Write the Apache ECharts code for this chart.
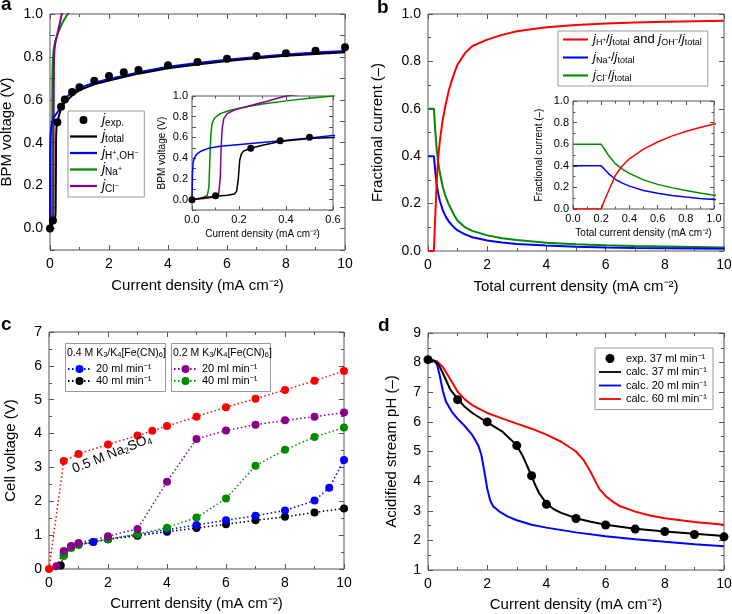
<!DOCTYPE html>
<html>
<head>
<meta charset="utf-8">
<script src="https://cdn.jsdelivr.net/npm/echarts@6/dist/echarts.min.js"></script>
<style>
html, body { margin: 0; padding: 0; background: #fff; }
#main { width: 732px; height: 614px; }
</style>
</head>
<body>
<div id="main"></div>
<script>
var FONT = '"Liberation Sans", Arial, sans-serif';
var FRAME = '#555';
var RED = '#ff0000', BLUE = '#0000ff', GREEN = '#008a00', PURPLE = '#880088';

// ---- a: BPM voltage vs current density (also used by the inset)
var aExp = [[0,0],[0.1,0.037],[0.25,0.495],[0.375,0.568],[0.5,0.602],[0.75,0.637],[1,0.658],[1.5,0.689],[2,0.711],[2.5,0.728],[3,0.739],[4,0.761],[5,0.776],[6,0.792],[7,0.804],[8,0.817],[9,0.829],[10,0.845]];
var aTotal = [[0,0],[0.05,0.018],[0.1,0.033],[0.15,0.043],[0.18,0.055],[0.19,0.08],[0.197,0.2],[0.203,0.38],[0.21,0.44],[0.22,0.47],[0.25,0.495],[0.3,0.525],[0.375,0.56],[0.5,0.59],[0.6,0.6],[0.75,0.62],[1,0.645],[1.5,0.672],[2,0.69],[3,0.722],[4,0.747],[5,0.765],[6,0.781],[7,0.794],[8,0.805],[9,0.814],[10,0.822]];
var aHOH = [[0,0],[0.002,0.25],[0.005,0.36],[0.01,0.4],[0.02,0.44],[0.04,0.47],[0.07,0.495],[0.12,0.515],[0.18,0.528],[0.25,0.542],[0.32,0.556],[0.4,0.572],[0.5,0.595],[0.6,0.618],[0.75,0.635],[1,0.655],[1.5,0.68],[2,0.697],[3,0.728],[4,0.754],[5,0.772],[6,0.787],[7,0.8],[8,0.811],[9,0.82],[10,0.828]];
var aNa = [[0,0],[0.04,0.015],[0.065,0.04],[0.072,0.12],[0.076,0.4],[0.08,0.62],[0.085,0.73],[0.095,0.785],[0.12,0.83],[0.16,0.86],[0.2,0.883],[0.3,0.922],[0.4,0.953],[0.5,0.978],[0.6,1.0],[0.8,1.03],[1.2,1.08]];
var aCl = [[0,0],[0.05,0.01],[0.1,0.025],[0.113,0.05],[0.12,0.2],[0.124,0.5],[0.128,0.68],[0.135,0.78],[0.15,0.83],[0.18,0.865],[0.22,0.89],[0.27,0.92],[0.32,0.95],[0.36,0.975],[0.4,1.0],[0.5,1.03],[0.8,1.08]];
var aYLabels = [0, 0.2, 0.4, 0.6, 0.8, 1.0];

// ---- b: fractional currents
var bH = [[0,0],[0.2,0],[0.22,0.07],[0.25,0.16],[0.3,0.31],[0.35,0.4],[0.4,0.465],[0.5,0.555],[0.6,0.62],[0.7,0.675],[0.8,0.718],[0.9,0.755],[1,0.787],[1.25,0.835],[1.5,0.865],[2,0.892],[2.5,0.912],[3,0.927],[4,0.944],[5,0.954],[6,0.96],[7,0.964],[8,0.967],[9,0.969],[10,0.971]];
var bNa = [[0,0.4],[0.2,0.4],[0.25,0.33],[0.3,0.275],[0.35,0.24],[0.4,0.212],[0.5,0.172],[0.6,0.145],[0.7,0.125],[0.8,0.11],[0.9,0.097],[1,0.087],[1.25,0.07],[1.5,0.058],[2,0.044],[2.5,0.036],[3,0.03],[4,0.023],[5,0.018],[6,0.015],[7,0.013],[8,0.012],[9,0.011],[10,0.01]];
var bCl = [[0,0.6],[0.2,0.6],[0.25,0.5],[0.3,0.42],[0.35,0.37],[0.4,0.33],[0.5,0.27],[0.6,0.228],[0.7,0.198],[0.8,0.172],[0.9,0.148],[1,0.128],[1.25,0.1],[1.5,0.085],[2,0.066],[2.5,0.054],[3,0.046],[4,0.035],[5,0.028],[6,0.024],[7,0.021],[8,0.019],[9,0.017],[10,0.015]];

// ---- c: cell voltage
var cNa2SO4 = [[0,0],[0.5,3.19],[1,3.4],[2,3.68],[3,3.94],[3.5,4.08],[4,4.22],[5,4.5],[6,4.78],[7,5.03],[8,5.29],[9,5.56],[10,5.85]];
var c04_20 = [[0.5,0.48],[0.75,0.66],[1,0.73],[1.5,0.8],[2,0.88],[3,1.02],[4,1.16],[5,1.3],[6,1.44],[7,1.57],[8,1.73],[9,2.02],[9.5,2.4],[10,3.22]];
var c04_40 = [[0.4,0.1],[0.5,0.4],[0.75,0.64],[1,0.72],[1.5,0.8],[2,0.88],[3,0.98],[4,1.1],[5,1.21],[6,1.32],[7,1.44],[8,1.54],[9,1.67],[10,1.79]];
var c02_20 = [[0.25,0.08],[0.5,0.53],[0.75,0.68],[1,0.77],[2,0.97],[3,1.18],[4,2.58],[5,3.84],[6,4.09],[7,4.26],[8,4.39],[9,4.5],[10,4.62]];
var c02_40 = [[0.5,0.39],[0.75,0.62],[1,0.71],[2,0.88],[3,1.03],[4,1.22],[5,1.52],[6,2.08],[7,3.05],[8,3.52],[9,3.9],[10,4.18]];

// ---- d: acidified stream pH
var dExp = [[0,8.1],[1,6.75],[2,6.0],[3,5.2],[3.5,4.18],[4,3.22],[5,2.74],[6,2.52],[7,2.38],[8,2.3],[9,2.2],[10,2.12]];
var d37 = [[0,8.1],[0.2,8.07],[0.35,7.95],[0.5,7.65],[0.75,7.1],[1,6.78],[1.25,6.5],[1.5,6.3],[2,5.98],[2.5,5.68],[2.8,5.4],[3,5.2],[3.2,4.85],[3.4,4.4],[3.5,4.18],[3.6,3.92],[3.75,3.6],[4,3.25],[4.25,3.05],[4.5,2.93],[5,2.75],[5.5,2.63],[6,2.53],[7,2.39],[8,2.3],[9,2.22],[10,2.15]];
var d20 = [[0,8.1],[0.2,8.05],[0.3,7.95],[0.4,7.55],[0.5,7.05],[0.6,6.7],[0.8,6.35],[1,6.1],[1.25,5.85],[1.5,5.55],[1.7,5.2],[1.8,4.9],[1.9,4.35],[2,3.75],[2.1,3.35],[2.2,3.15],[2.4,2.98],[2.7,2.8],[3,2.68],[3.5,2.53],[4,2.43],[5,2.27],[6,2.14],[7,2.04],[8,1.95],[9,1.87],[10,1.8]];
var d60 = [[0,8.1],[0.3,8.05],[0.5,7.85],[0.75,7.45],[1,7.02],[1.25,6.75],[1.5,6.56],[2,6.3],[2.5,6.12],[3,5.94],[3.5,5.77],[4,5.57],[4.5,5.33],[5,5.0],[5.25,4.72],[5.5,4.3],[5.65,4.0],[5.8,3.72],[6,3.5],[6.25,3.3],[6.5,3.15],[7,2.97],[7.5,2.84],[8,2.75],[9,2.62],[10,2.53]];

var legendText = {
    a_exp: '{j|j}{s|exp.}',
    a_total: '{j|j}{s|total}',
    a_hoh: '{j|j}{s|H}{p|+}{s|,OH}{p|\u2212}',
    a_na: '{j|j}{s|Na}{p|+}',
    a_cl: '{j|j}{s|Cl}{p|\u2212}',
    b_h: '{j|j}{s|H}{p|+}{n|/}{j|j}{s|total}{n| and }{j|j}{s|OH}{p|\u2212}{n|/}{j|j}{s|total}',
    b_na: '{j|j}{s|Na}{p|+}{n|/}{j|j}{s|total}',
    b_cl: '{j|j}{s|Cl}{p|\u2212}{n|/}{j|j}{s|total}',
    c04_20: '20 ml min\u207b\u00b9', c04_40: '40 ml min\u207b\u00b9',
    c02_20: '20 ml min\u207b\u00b9', c02_40: '40 ml min\u207b\u00b9',
    d_exp: 'exp. 37 ml min\u207b\u00b9', d_37: 'calc. 37 ml min\u207b\u00b9',
    d_20: 'calc. 20 ml min\u207b\u00b9', d_60: 'calc. 60 ml min\u207b\u00b9'
};
function fmtLegend(name) { return legendText[name]; }

// plain line icon for the legends (no marker on it)
var LINE_ICON = 'path://M0,0h24v2h-24z';

function richJ(fs) {
    return {
        j: { fontStyle: 'italic', fontSize: fs, lineHeight: fs + 2, fontFamily: FONT, color: '#000' },
        n: { fontSize: fs, lineHeight: fs + 2, fontFamily: FONT, color: '#000' },
        s: { fontSize: fs - 4, lineHeight: fs - 5, verticalAlign: 'bottom', fontFamily: FONT, color: '#000' },
        p: { fontSize: fs - 7, lineHeight: fs - 4, verticalAlign: 'middle', fontFamily: FONT, color: '#000' }
    };
}

var xAxes = [], yAxes = [];

function makeAxis(dim, grid, s, pos, main, inset) {
    var a = {
        type: 'value', gridIndex: grid, position: pos,
        min: s.min, max: s.max, interval: s.interval,
        z: inset ? 4 : 0,
        axisLine: { show: false, onZero: false },
        axisTick: { inside: true, length: inset ? 4 : 5, lineStyle: { color: FRAME } },
        minorTick: { show: !!s.minor, splitNumber: 2, length: inset ? 2.5 : 3, lineStyle: { color: FRAME } },
        splitLine: { show: false },
        axisLabel: {
            show: main, fontSize: inset ? 11 : 14, fontFamily: FONT, color: '#000',
            margin: inset ? 4 : 7,
            formatter: function (v) { return v.toFixed(s.dec); }
        }
    };
    if (s.labels) a.axisLabel.customValues = s.labels;
    if (main) {
        a.name = s.name;
        a.nameLocation = 'middle';
        a.nameGap = s.gap;
        a.nameTextStyle = { fontSize: inset ? 10 : 15, fontFamily: FONT, color: '#000' };
    }
    var arr = dim === 'x' ? xAxes : yAxes;
    arr.push(a);
    return arr.length - 1;
}

function frame(grid, xs, ys, inset) {
    var xi = makeAxis('x', grid, xs, 'bottom', true, inset);
    makeAxis('x', grid, xs, 'top', false, inset);
    var yi = makeAxis('y', grid, ys, 'left', true, inset);
    makeAxis('y', grid, ys, 'right', false, inset);
    return { x: xi, y: yi, z: inset ? 5 : 2 };
}

var grids = [
    { left: 50, top: 14, width: 295, height: 236 },
    { left: 192, top: 96, width: 141, height: 114, z: 3, backgroundColor: '#fff' },
    { left: 428, top: 14, width: 296, height: 237 },
    { left: 573, top: 101, width: 141, height: 108, z: 3, backgroundColor: '#fff' },
    { left: 49, top: 332, width: 295, height: 237 },
    { left: 428, top: 333, width: 296, height: 237 }
];
grids.forEach(function (g) {
    g.show = true;
    g.borderColor = FRAME;
    g.borderWidth = 1;
    g.outerBoundsMode = 'none';
    if (!g.backgroundColor) g.backgroundColor = 'transparent';
});

var cdName = 'Current density (mA cm\u207b\u00b2)';
var A = frame(0, { min: 0, max: 10, interval: 2, minor: true, dec: 0, name: cdName, gap: 28 },
                 { min: -0.1, max: 1.0, interval: 0.1, labels: aYLabels, dec: 1, name: 'BPM voltage (V)', gap: 36 });
var AI = frame(1, { min: 0, max: 0.6, interval: 0.2, minor: true, dec: 1, name: cdName, gap: 19 },
                  { min: -0.1, max: 1.0, interval: 0.1, labels: aYLabels, dec: 1, name: 'BPM voltage (V)', gap: 25 }, true);
var B = frame(2, { min: 0, max: 10, interval: 2, minor: true, dec: 0, name: 'Total current density (mA cm\u207b\u00b2)', gap: 28 },
                 { min: 0, max: 1, interval: 0.2, minor: true, dec: 1, name: 'Fractional current (\u2013)', gap: 43 });
var BI = frame(3, { min: 0, max: 1, interval: 0.2, minor: true, dec: 1, name: 'Total current density (mA cm\u207b\u00b2)', gap: 19 },
                  { min: 0, max: 1, interval: 0.2, minor: true, dec: 1, name: 'Fractional current (\u2013)', gap: 29 }, true);
var C = frame(4, { min: 0, max: 10, interval: 2, minor: true, dec: 0, name: cdName, gap: 27 },
                 { min: 0, max: 7, interval: 1, minor: true, dec: 0, name: 'Cell voltage (V)', gap: 31 });
var D = frame(5, { min: 0, max: 10, interval: 2, minor: true, dec: 0, name: cdName, gap: 27 },
                 { min: 1, max: 9, interval: 1, minor: true, dec: 0, name: 'Acidified stream pH (\u2013)', gap: 29 });

function curve(name, data, ax, color, width) {
    return {
        name: name, type: 'line', data: data, xAxisIndex: ax.x, yAxisIndex: ax.y, z: ax.z,
        symbol: 'none', smooth: false, silent: true, animation: false,
        itemStyle: { color: color },
        lineStyle: { color: color, width: width }
    };
}
function dots(name, data, ax, color, size) {
    return {
        name: name, type: 'scatter', data: data, xAxisIndex: ax.x, yAxisIndex: ax.y, z: ax.z + 1,
        symbol: 'circle', symbolSize: size, silent: true, animation: false,
        itemStyle: { color: color, opacity: 1 }
    };
}
function dotted(name, data, ax, color) {
    return {
        name: name, type: 'line', data: data, xAxisIndex: ax.x, yAxisIndex: ax.y, z: ax.z,
        symbol: 'circle', symbolSize: 8, showSymbol: true, silent: true, animation: false,
        itemStyle: { color: color },
        lineStyle: { color: color, width: 1.5, type: [1.5, 2.5] }
    };
}

var series = [
    // a
    curve('a_na', aNa, A, GREEN, 2),
    curve('a_cl', aCl, A, PURPLE, 2),
    curve('a_hoh', aHOH, A, BLUE, 2),
    curve('a_total', aTotal, A, '#000', 2),
    dots('a_exp', aExp, A, '#000', 8),
    curve('a_na', aNa, AI, GREEN, 1.5),
    curve('a_cl', aCl, AI, PURPLE, 1.5),
    curve('a_hoh', aHOH, AI, BLUE, 1.5),
    curve('a_total', aTotal, AI, '#000', 1.5),
    dots('a_exp', aExp, AI, '#000', 7),
    // b
    curve('b_cl', bCl, B, GREEN, 2),
    curve('b_na', bNa, B, BLUE, 2),
    curve('b_h', bH, B, RED, 2),
    curve('b_cl', bCl, BI, GREEN, 1.5),
    curve('b_na', bNa, BI, BLUE, 1.5),
    curve('b_h', bH, BI, RED, 1.5),
    // c
    dotted('c04_40', c04_40, C, '#000'),
    dotted('c04_20', c04_20, C, BLUE),
    dotted('c02_40', c02_40, C, GREEN),
    dotted('c02_20', c02_20, C, PURPLE),
    dotted('c_na2so4', cNa2SO4, C, RED),
    // d
    curve('d_60', d60, D, RED, 2),
    curve('d_20', d20, D, BLUE, 2),
    curve('d_37', d37, D, '#000', 2),
    dots('d_exp', dExp, D, '#000', 9)
];

var legends = [
    {
        left: 68, top: 111, orient: 'vertical', padding: [2, 6, 3, 2], itemGap: 1.5,
        itemWidth: 27, itemHeight: 8, borderColor: '#999', borderWidth: 1, borderRadius: 0,
        backgroundColor: '#fff', selectedMode: false, formatter: fmtLegend,
        data: [{ name: 'a_exp', icon: 'circle' },
               { name: 'a_total', icon: LINE_ICON }, { name: 'a_hoh', icon: LINE_ICON },
               { name: 'a_na', icon: LINE_ICON }, { name: 'a_cl', icon: LINE_ICON }],
        textStyle: { fontSize: 14, fontFamily: FONT, color: '#000', rich: richJ(14) }
    },
    {
        left: 558, top: 31, orient: 'vertical', padding: [2, 6, 3, 5], itemGap: 4,
        itemWidth: 25, itemHeight: 10, borderColor: '#999', borderWidth: 1, borderRadius: 0,
        backgroundColor: '#fff', selectedMode: false, formatter: fmtLegend,
        data: [{ name: 'b_h', icon: LINE_ICON }, { name: 'b_na', icon: LINE_ICON }, { name: 'b_cl', icon: LINE_ICON }],
        textStyle: { fontSize: 13, fontFamily: FONT, color: '#000', rich: richJ(13) }
    },
    {
        left: 67, top: 363.5, orient: 'vertical', padding: 0, itemGap: 1,
        itemWidth: 23, itemHeight: 10, selectedMode: false, formatter: fmtLegend,
        data: ['c04_20', 'c04_40'],
        textStyle: { fontSize: 11, fontFamily: FONT, color: '#000' }
    },
    {
        left: 173, top: 363.5, orient: 'vertical', padding: 0, itemGap: 1,
        itemWidth: 23, itemHeight: 10, selectedMode: false, formatter: fmtLegend,
        data: ['c02_20', 'c02_40'],
        textStyle: { fontSize: 11, fontFamily: FONT, color: '#000' }
    },
    {
        left: 595, top: 348, orient: 'vertical', padding: [5, 6, 5, 4], itemGap: 2.5,
        itemWidth: 22, itemHeight: 9, borderColor: '#999', borderWidth: 1, borderRadius: 0,
        backgroundColor: '#fff', selectedMode: false, formatter: fmtLegend,
        data: [{ name: 'd_exp', icon: 'circle' }, { name: 'd_37', icon: LINE_ICON },
               { name: 'd_20', icon: LINE_ICON }, { name: 'd_60', icon: LINE_ICON }],
        textStyle: { fontSize: 11, fontFamily: FONT, color: '#000' }
    }
];

var subRich = {
    s: { fontSize: 7.5, lineHeight: 8, verticalAlign: 'bottom', fontFamily: FONT, color: '#000' },
    r: { fontSize: 13.5, lineHeight: 15, fontFamily: FONT, color: RED },
    rs: { fontSize: 9, lineHeight: 9, verticalAlign: 'bottom', fontFamily: FONT, color: RED }
};

var graphics = [
    { type: 'text', x: 1, y: 5, style: { text: 'a', font: 'bold 19px ' + FONT, fill: '#000', verticalAlign: 'middle' } },
    { type: 'text', x: 377, y: 8, style: { text: 'b', font: 'bold 19px ' + FONT, fill: '#000', verticalAlign: 'middle' } },
    { type: 'text', x: 1, y: 325, style: { text: 'c', font: 'bold 19px ' + FONT, fill: '#000', verticalAlign: 'middle' } },
    { type: 'text', x: 378, y: 326, style: { text: 'd', font: 'bold 19px ' + FONT, fill: '#000', verticalAlign: 'middle' } },
    { type: 'rect', shape: { x: 65.5, y: 343.5, width: 100, height: 48 }, style: { fill: '#fff', stroke: '#999', lineWidth: 1 }, z: 3 },
    { type: 'rect', shape: { x: 171.5, y: 343.5, width: 99, height: 48 }, style: { fill: '#fff', stroke: '#999', lineWidth: 1 }, z: 3 },
    { type: 'text', x: 67, y: 353, z: 4, style: { text: '0.4 M K{s|3}/K{s|4}[Fe(CN){s|6}]', fontSize: 10.5, fontFamily: FONT, fill: '#000', verticalAlign: 'middle', rich: subRich } },
    { type: 'text', x: 173, y: 353, z: 4, style: { text: '0.2 M K{s|3}/K{s|4}[Fe(CN){s|6}]', fontSize: 10.5, fontFamily: FONT, fill: '#000', verticalAlign: 'middle', rich: subRich } },
    { type: 'text', x: 112, y: 454, rotation: 0.38, z: 4, style: { text: '{r|0.5 M Na}{rs|2}{r|SO}{rs|4}', align: 'center', verticalAlign: 'middle', rich: subRich } }
];

var myChart = echarts.init(document.getElementById('main'), null, { renderer: 'canvas' });
var option = {
    animation: false,
    backgroundColor: '#fff',
    grid: grids,
    xAxis: xAxes,
    yAxis: yAxes,
    legend: legends,
    series: series,
    graphic: graphics
};
myChart.setOption(option);
</script>
</body>
</html>
